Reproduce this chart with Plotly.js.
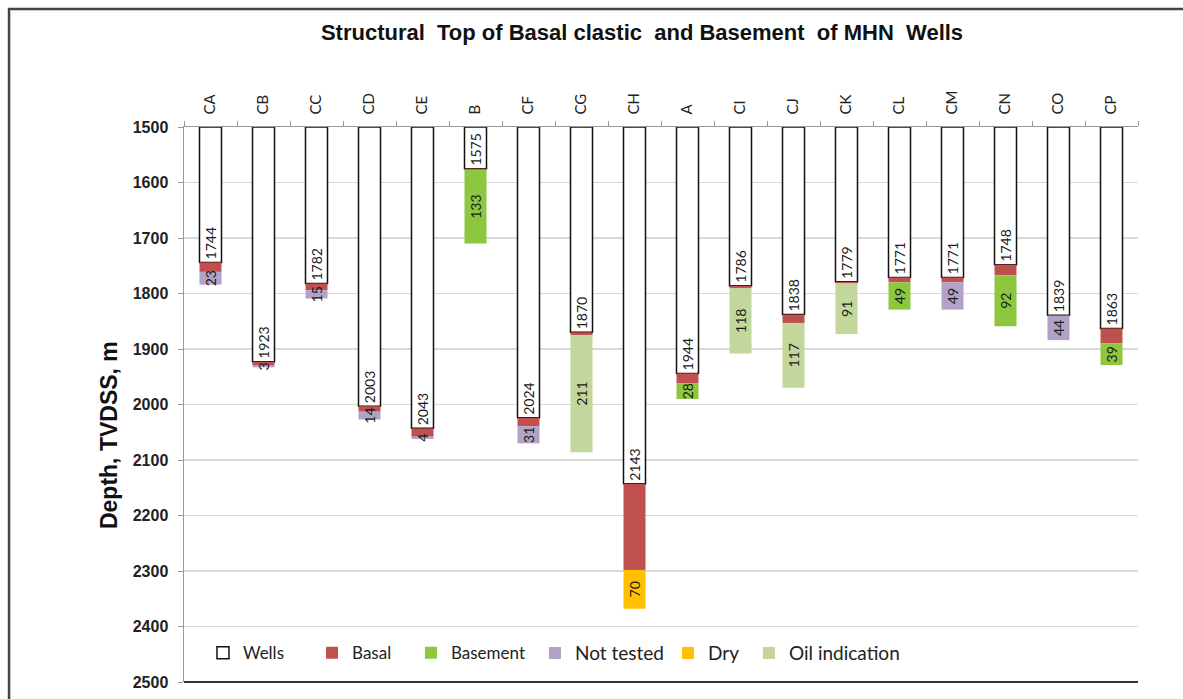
<!DOCTYPE html>
<html>
<head>
<meta charset="utf-8">
<script src="https://cdn.plot.ly/plotly-3.0.1.min.js"></script>
<style>html,body{margin:0;padding:0;background:#fff;}#chart{width:1183px;height:699px;}</style>
</head>
<body>
<div id="chart"></div>
<script>
// ---- data ----
const wellNames = ["CA","CB","CC","CD","CE","B","CF","CG","CH","A","CI","CJ","CK","CL","CM","CN","CO","CP"];
const wellDepth = [1744,1923,1782,2003,2043,1575,2024,1870,2143,1944,1786,1838,1779,1771,1771,1748,1839,1863];
const basalThk  = [17,7,12,10,15,2,15,5,155,18,4,15,3,9,9,19,1,27];
const basementThk  = [null,null,null,null,null,133,null,null,null,28,null,null,null,49,null,92,null,39];
const notTestedThk = [23,3,15,14,4,null,31,null,null,null,null,null,null,null,49,null,44,null];
const dryThk       = [null,null,null,null,null,null,null,null,70,null,null,null,null,null,null,null,null,null];
const oilThk       = [null,null,null,null,null,null,null,211,null,null,118,117,91,null,null,null,null,null];
const topDepth = 1500;

const labelFont = {family: "Lato, Open Sans, sans-serif", size: 14, color: "#1a1a1a"};
const W = 0.415;

const wellsTrace = {
  type: "bar", name: "Wells", legend: "legend", x: wellNames,
  base: wellNames.map(() => topDepth),
  y: wellDepth.map(d => d - topDepth),
  width: W,
  marker: {color: "#ffffff", line: {color: "#111111", width: 1.5}},
  text: wellDepth.map(String), textposition: "inside", insidetextanchor: "end",
  textangle: -90, constraintext: "none", textfont: labelFont, hoverinfo: "x+text"
};
const basalTrace = {
  type: "bar", name: "Basal", legend: "legend2", x: wellNames,
  base: wellDepth, y: basalThk, width: W,
  marker: {color: "#C0504D", line: {width: 0}}, hoverinfo: "x+y"
};
const segBase = wellDepth.map((d, i) => d + basalThk[i]);
function seg(name, vals, color, leg) {
  return {
    type: "bar", name: name, legend: leg, x: wellNames, base: segBase, y: vals, width: W,
    marker: {color: color, line: {width: 0}},
    text: vals.map(v => v == null ? "" : String(v)),
    textposition: "inside", insidetextanchor: "middle", textangle: -90,
    constraintext: "none", textfont: labelFont, cliponaxis: false, hoverinfo: "x+y"
  };
}
const traces = [
  wellsTrace, basalTrace,
  seg("Basement", basementThk, "#8DC63F", "legend3"),
  seg("Not tested", notTestedThk, "#B3A2C7", "legend4"),
  seg("Dry", dryThk, "#FFC000", "legend5"),
  seg("Oil indication", oilThk, "#C3D69B", "legend6")
];

function leg(x, size) {
  return {
    orientation: "h", x: x, xanchor: "left", y: 0.052, yanchor: "middle",
    bgcolor: "rgba(0,0,0,0)", itemwidth: 30,
    font: {family: "Lato, Open Sans, sans-serif", size: size, color: "#222"}
  };
}

const layout = {
  width: 1183, height: 699,
  margin: {l: 184, r: 45, t: 127, b: 17},
  paper_bgcolor: "#ffffff", plot_bgcolor: "#ffffff",
  barmode: "overlay",
  showlegend: true,
  title: {
    text: "Structural  Top of Basal clastic  and Basement  of MHN  Wells",
    font: {family: "Liberation Sans, Arial, sans-serif", size: 22, color: "#111", weight: "bold"},
    xref: "container", x: 0.5427, xanchor: "center", yref: "container", y: 0.954, yanchor: "middle"
  },
  xaxis: {
    type: "category", side: "top", tickangle: -90,
    ticks: "outside", tickson: "boundaries", ticklen: 5, tickcolor: "#999",
    showline: true, linecolor: "#999", linewidth: 1.5,
    showgrid: false, zeroline: false,
    tickfont: {family: "Lato, Open Sans, sans-serif", size: 15, color: "#222"},
    ticklabelstandoff: 8,
    fixedrange: true
  },
  yaxis: {
    range: [2500, 1500], dtick: 100, tick0: 1500,
    ticks: "outside", ticklen: 5, tickcolor: "#999",
    showline: true, linecolor: "#999", linewidth: 1.5,
    showgrid: true, gridcolor: "#d9d9d9", gridwidth: 1.5, zeroline: false,
    tickfont: {family: "Liberation Sans, Arial, sans-serif", size: 16, color: "#222", weight: "bold"},
    ticklabelstandoff: 6,
    fixedrange: true
  },
  legend:  leg(0.0199, 17),
  legend2: leg(0.1342, 17),
  legend3: leg(0.2379, 17),
  legend4: leg(0.3679, 19),
  legend5: leg(0.5073, 19),
  legend6: leg(0.5922, 19),
  annotations: [{
    text: "Depth, TVDSS, m", xref: "paper", yref: "paper", x: -0.0786, y: 0.445,
    textangle: -90, showarrow: false, xanchor: "center", yanchor: "middle",
    font: {family: "Liberation Sans, Arial, sans-serif", size: 23, color: "#111", weight: "bold"}
  }],
  shapes: [
    {type: "line", xref: "paper", yref: "paper", x0: 0, x1: 1, y0: 0, y1: 0, line: {color: "#333", width: 2}},
    {type: "rect", xref: "paper", yref: "paper", x0: -0.1834, x1: 1.2, y0: -0.2, y1: 1.2126,
     line: {color: "#444", width: 2.5}, fillcolor: "rgba(0,0,0,0)"}
  ]
};

Plotly.newPlot("chart", traces, layout, {displayModeBar: false, staticPlot: true});
</script>
</body>
</html>
